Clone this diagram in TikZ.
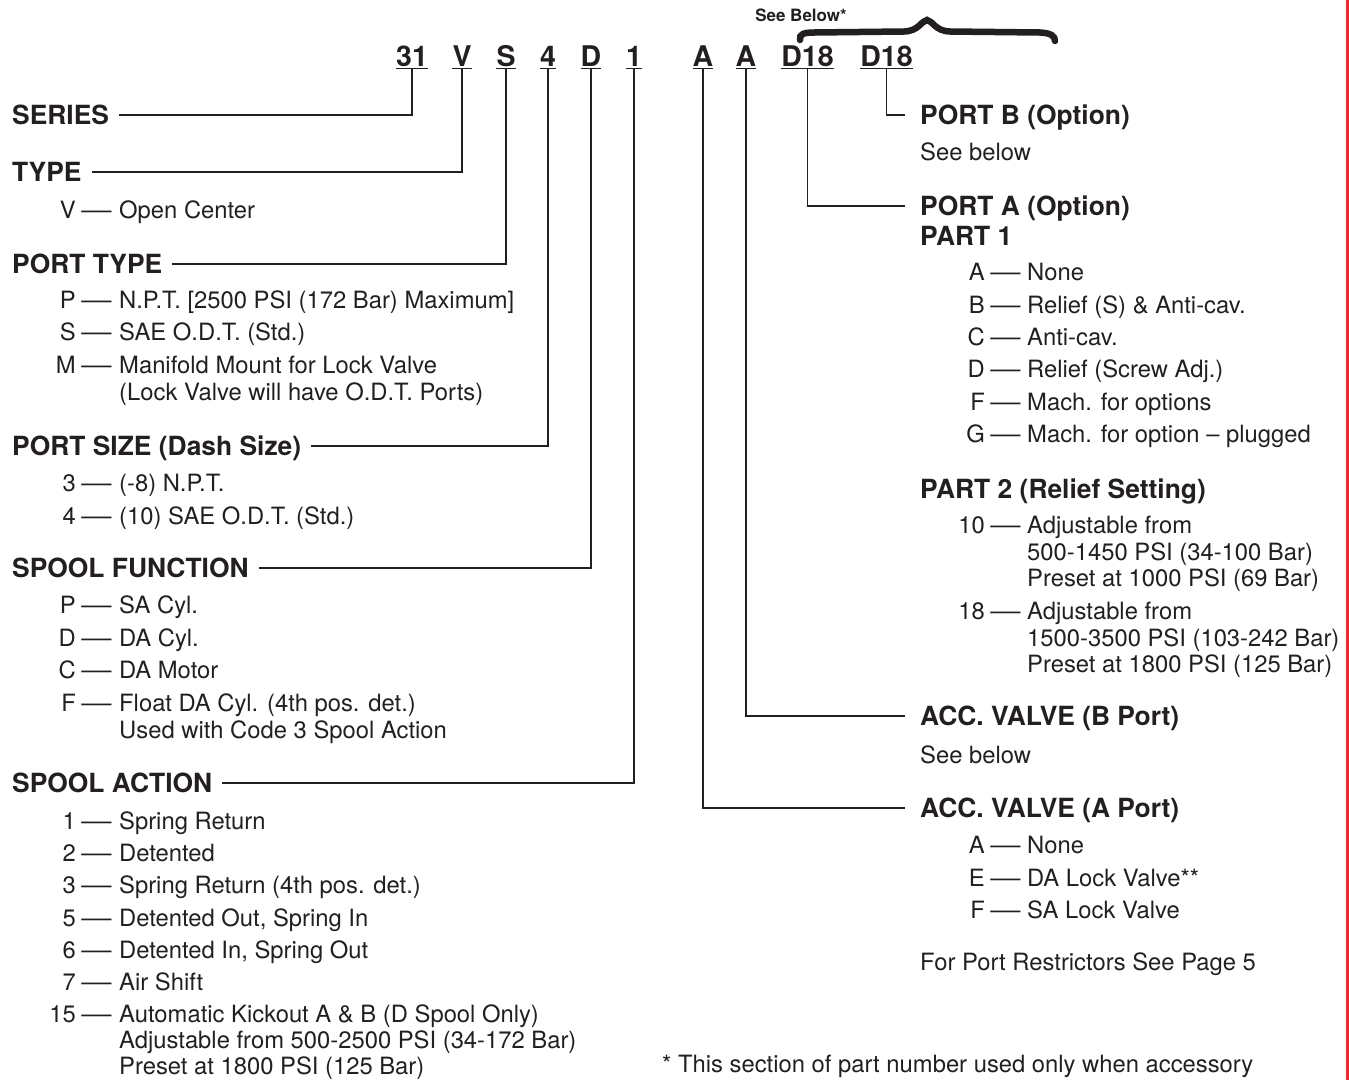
\documentclass[tikz,border=0pt]{standalone}
\usepackage{fontspec}
\setmainfont{TeX Gyre Heros}
\usepackage{graphicx}
\usepackage{tikz}
\usetikzlibrary{positioning}
\usepackage{xcolor}
\definecolor{ink}{RGB}{35,31,32}
\definecolor{edge}{RGB}{237,43,36}
\newcommand{\longdash}{\scalebox{1.27}[1]{—}}

\tikzset{
  hd/.style={anchor=west, inner sep=0pt, text height=19pt, text depth=0pt,
    text=ink, font=\fontsize{26.4}{30}\selectfont\bfseries},
  txt/.style={anchor=west, inner sep=0pt, text height=17.1pt, text depth=0pt,
    text=ink, font=\fontsize{23.8}{27}\selectfont},
  optkey/.style={txt, anchor=east},
  dig/.style={anchor=base, inner sep=0pt, text depth=2pt, text=ink,
    font=\fontsize{28.5}{30}\selectfont\bfseries},
  lead/.style={draw=ink, line width=1.1pt},
}

\begin{document}
\begin{tikzpicture}[x=1pt, y=-1pt]
    \useasboundingbox (0,0) rectangle (1349,1080);
    \draw[edge, line width=3pt] (1347.5,0) -- (1347.5,1080);

    % part number
    \node[dig] (c31) at (412,66) {31};
    \node[dig] (cV) at (462,66) {V};
    \node[dig] (cS) at (506,66) {S};
    \node[dig] (c4) at (548,66) {4};
    \node[dig] (cD) at (591,66) {D};
    \node[dig] (c1) at (634,66) {1};
    \node[dig] (cA1) at (703,66) {A};
    \node[dig] (cA2) at (746,66) {A};
    \node[dig] (cD18a) at (807.5,66) {D18};
    \node[dig] (cD18b) at (886.5,66) {D18};
    \foreach \c in {c31,cV,cS,c4,cD,c1,cA1,cA2,cD18a,cD18b}
        \draw[lead] (\c.south west) -- (\c.south east);

    % brace
    \node[inner sep=0pt, text=ink, font=\fontsize{17}{18}\selectfont\bfseries]
        (below) at (801,15) {See Below*};
    \draw[ink, line width=6.5pt, line cap=round]
        (800,40) .. controls (799,34) and (804,32.5) .. (814,32.5) -- (904,31.5)
        .. controls (919,31) and (921,21) .. (927,20)
        .. controls (933,21) and (935,31) .. (950,31.5) -- (1040,32.5)
        .. controls (1051,33) and (1055,36) .. (1055,41);

    % left column
    \node[hd] (series) at (12,115) {SERIES};
    \node[hd] (type) at (12,172) {TYPE};
    \node[hd] (ptype) at (12,264) {PORT TYPE};
    \node[hd] (psize) at (12,446) {PORT SIZE (Dash Size)};
    \node[hd] (sfunc) at (12,568) {SPOOL FUNCTION};
    \node[hd] (sact) at (12,783) {SPOOL ACTION};

    \draw[lead] ([xshift=10pt]series.east) -| (c31.south);
    \draw[lead] ([xshift=10pt]type.east) -| (cV.south);
    \draw[lead] ([xshift=10pt]ptype.east) -| (cS.south);
    \draw[lead] ([xshift=10pt]psize.east) -| (c4.south);
    \draw[lead] ([xshift=10pt]sfunc.east) -| (cD.south);
    \draw[lead] ([xshift=10pt]sact.east) -| (c1.south);

    \foreach \y/\k/\t in {210/V/{Open Center},
        300/P/{N.P.T. [2500 PSI (172 Bar) Maximum]}, 332/S/{SAE O.D.T. (Std.)},
        365/M/{Manifold Mount for Lock Valve},
        483/3/{(-8) N.P.T.}, 516/4/{(10) SAE O.D.T. (Std.)},
        605/P/{SA Cyl.}, 638/D/{DA Cyl.}, 670/C/{DA Motor},
        703/F/{Float DA Cyl. (4th pos. det.)},
        821/1/{Spring Return}, 853/2/{Detented},
        885/3/{Spring Return (4th pos. det.)}, 918/5/{Detented Out, Spring In},
        950/6/{Detented In, Spring Out}, 982/7/{Air Shift},
        1014/15/{Automatic Kickout A \& B (D Spool Only)}} {
        \node[optkey] (lk\y) at (76,\y) {\k};
        \node[txt, anchor=center] (ld\y) at (96.5,\y) {\longdash};
        \node[txt] (lt\y) at (119,\y) {\t};
    }
    \foreach \y/\t in {392/{(Lock Valve will have O.D.T. Ports)},
        730/{Used with Code 3 Spool Action},
        1040/{Adjustable from 500-2500 PSI (34-172 Bar)},
        1066/{Preset at 1800 PSI (125 Bar)}}
        \node[txt] (lc\y) at (119,\y) {\t};

    % right column
    \node[hd] (portb) at (920,115) {PORT B (Option)};
    \node[hd] (porta) at (920,206) {PORT A (Option)};
    \node[hd] (part1) at (920,236) {PART 1};
    \node[hd] (part2) at (920,489) {PART 2 (Relief Setting)};
    \node[hd] (accb) at (920,716) {ACC. VALVE (B Port)};
    \node[hd] (acca) at (920,808) {ACC. VALVE (A Port)};

    \draw[lead] (cD18b.south) |- ([xshift=-15pt]portb.west);
    \draw[lead] (cD18a.south) |- ([xshift=-15pt]porta.west);
    \draw[lead] (cA2.south) |- ([xshift=-15pt]accb.west);
    \draw[lead] (cA1.south) |- ([xshift=-15pt]acca.west);

    \foreach \y/\k/\t in {272/A/{None}, 305/B/{Relief (S) \& Anti-cav.},
        337/C/{Anti-cav.}, 369/D/{Relief (Screw Adj.)},
        402/F/{Mach. for options}, 434/G/{Mach. for option – plugged},
        525/10/{Adjustable from}, 611/18/{Adjustable from},
        845/A/{None}, 878/E/{DA Lock Valve**}, 910/F/{SA Lock Valve}} {
        \node[optkey] (rk\y) at (985,\y) {\k};
        \node[txt, anchor=center] (rd\y) at (1005.5,\y) {\longdash};
        \node[txt] (rt\y) at (1027,\y) {\t};
    }
    \foreach \y/\t in {552/{500-1450 PSI (34-100 Bar)},
        578/{Preset at 1000 PSI (69 Bar)},
        638/{1500-3500 PSI (103-242 Bar)},
        664/{Preset at 1800 PSI (125 Bar)}}
        \node[txt] (rc\y) at (1027,\y) {\t};

    \node[txt] (seeb) at (920,152) {See below};
    \node[txt] (seea) at (920,755) {See below};
    \node[txt] (restr) at (920,962) {For Port Restrictors See Page 5};
    \node[txt] (note) at (662,1064) {* This section of part number used only when accessory};
\end{tikzpicture}
\end{document}
